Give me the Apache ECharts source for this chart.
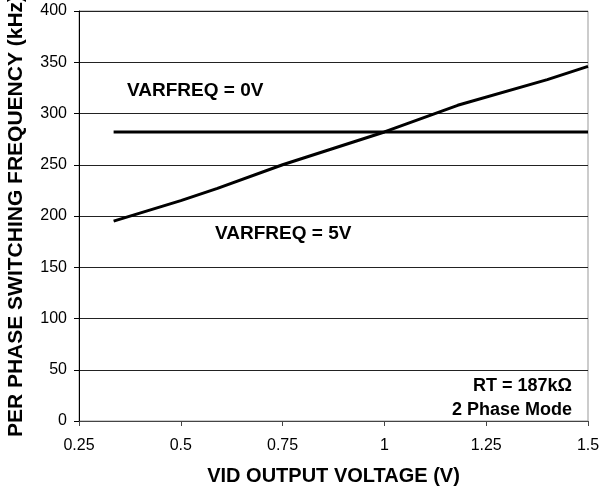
<!DOCTYPE html>
<html lang="en">
<head>
    <meta charset="UTF-8">
    <title>Switching frequency vs VID</title>
    <script src="https://cdn.jsdelivr.net/npm/echarts@6/dist/echarts.min.js"></script>
    <style>
        html, body { margin: 0; padding: 0; background: #fff; }
    </style>
</head>
<body>
<div id="chart" style="width: 601px; height: 493px"></div>
<script>
    // values
    var vid0V = [0.335, 1.5];
    var freq0V = [282, 282];
    var vid5V = [0.335, 0.5, 0.59, 0.75, 1.0, 1.18, 1.4, 1.5];
    var freq5V = [195, 215, 227, 250, 282, 308, 333, 346];
    var yTicks = [0, 50, 100, 150, 200, 250, 300, 350, 400];

    var font = 'Liberation Sans, Arial, sans-serif';

    function pairs(xs, ys) {
        return xs.map(function (x, i) { return [x, ys[i]]; });
    }

    var chart = echarts.init(document.getElementById('chart'));
    var option = {
        animation: false,
        grid: {
            left: 79, right: 13, top: 11, bottom: 72,
            outerBoundsMode: 'none',
            containLabel: false,
            show: true,
            borderColor: '#999',
            borderWidth: 1
        },
        xAxis: {
            type: 'value',
            min: 0.25, max: 1.5, interval: 0.25,
            name: 'VID OUTPUT VOLTAGE (V)',
            nameLocation: 'middle',
            nameGap: 45,
            nameTextStyle: { fontFamily: font, fontSize: 20, fontWeight: 'bold', color: '#000' },
            axisLine: { lineStyle: { color: '#444', width: 1 } },
            axisTick: { show: true, length: 5, lineStyle: { color: '#444' } },
            axisLabel: { fontFamily: font, fontSize: 16, color: '#000', margin: 17 },
            splitLine: { show: false }
        },
        yAxis: {
            type: 'value',
            min: yTicks[0], max: yTicks[yTicks.length - 1], interval: 50,
            name: 'PER PHASE SWITCHING FREQUENCY (kHz)',
            nameLocation: 'middle',
            nameRotate: 90,
            nameGap: 52,
            nameTextStyle: { fontFamily: font, fontSize: 21, fontWeight: 'bold', color: '#000' },
            axisLine: { show: true, lineStyle: { color: '#000', width: 1 } },
            axisTick: { show: true, length: 5, lineStyle: { color: '#000' } },
            axisLabel: { fontFamily: font, fontSize: 16, color: '#000', margin: 12 },
            splitLine: { show: true, lineStyle: { color: '#222', width: 1 } }
        },
        series: [
            {
                name: 'VARFREQ = 0V',
                type: 'line',
                data: pairs(vid0V, freq0V),
                showSymbol: false,
                lineStyle: { color: '#000', width: 3 }
            },
            {
                name: 'VARFREQ = 5V',
                type: 'line',
                data: pairs(vid5V, freq5V),
                showSymbol: false,
                lineStyle: { color: '#000', width: 3 }
            }
        ],
        graphic: [
            { type: 'text', left: 127, top: 81,
              style: { text: 'VARFREQ = 0V', font: 'bold 19px ' + font, fill: '#000' } },
            { type: 'text', left: 215, top: 224,
              style: { text: 'VARFREQ = 5V', font: 'bold 19px ' + font, fill: '#000' } },
            { type: 'text', right: 29, top: 377,
              style: { text: 'RT = 187kΩ', font: 'bold 18px ' + font, fill: '#000' } },
            { type: 'text', right: 29, top: 401,
              style: { text: '2 Phase Mode', font: 'bold 18px ' + font, fill: '#000' } }
        ]
    };
    chart.setOption(option);
</script>
</body>
</html>
